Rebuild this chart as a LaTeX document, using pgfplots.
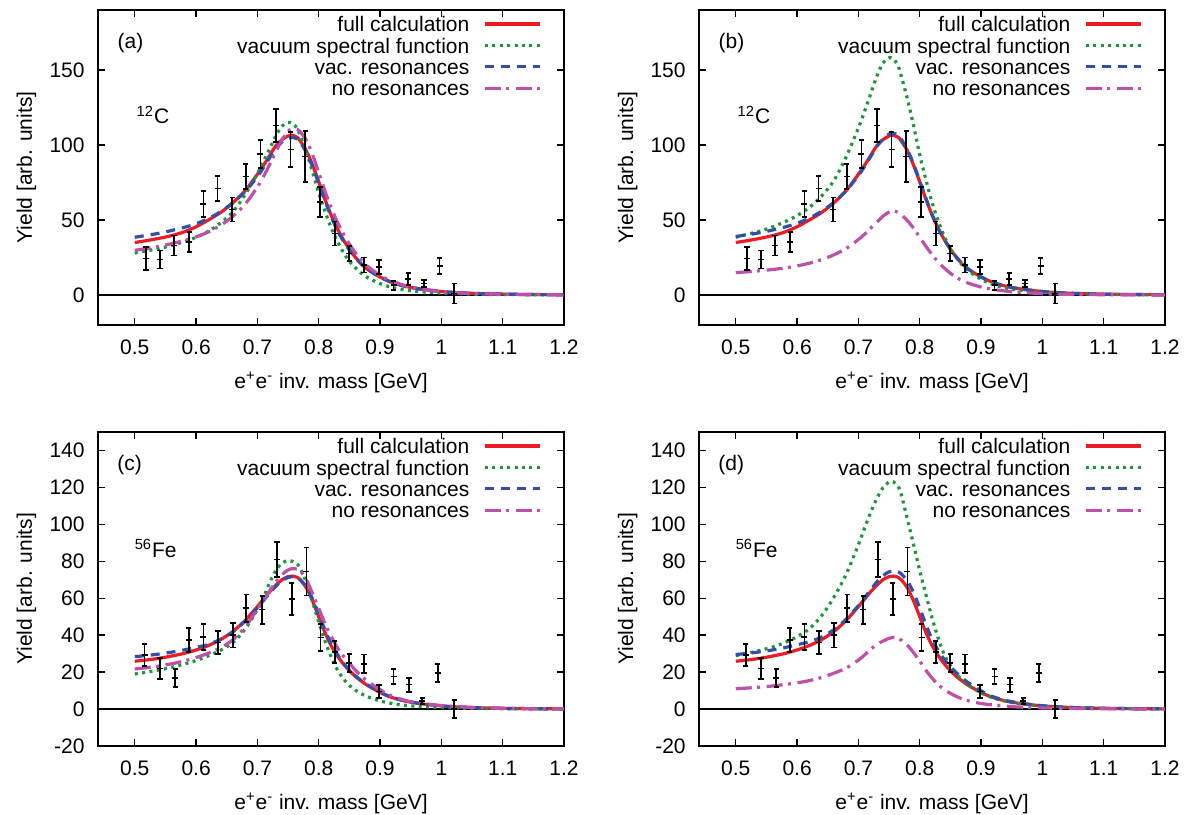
\documentclass[border=0pt]{standalone}
\usepackage{fontspec}
\setmainfont{Liberation Sans}
\usepackage{pgfplots}
\usepackage{pgfplotstable}
\pgfplotsset{compat=1.18}

\definecolor{cred}{RGB}{237,28,36}
\definecolor{cgreen}{RGB}{30,150,60}
\definecolor{cblue}{RGB}{50,80,170}
\definecolor{cmag}{RGB}{190,80,170}
\newcommand{\fs}{\fontsize{10.5}{12}\selectfont}

% ---------- data points ----------
\pgfplotstableread{
x y e
0.518 24.3 7.5
0.541 23.7 6.0
0.564 33.0 6.7
0.589 35.5 6.7
0.612 60.7 8.7
0.635 71.0 8.5
0.659 57.0 8.0
0.681 79.0 8.5
0.705 94.0 9.5
0.730 113.0 11.0
0.754 97.0 11.7
0.778 92.4 17.0
0.802 62.0 10.0
0.826 41.0 8.0
0.850 27.7 5.0
0.874 20.0 5.0
0.898 18.7 4.6
0.922 6.5 3.0
0.946 10.5 4.0
0.972 7.6 2.5
0.997 19.4 5.5
1.021 1.0 6.7
}\dataC
\pgfplotstableread{
x y e
0.516 29.3 6.0
0.541 22.0 5.6
0.566 16.8 5.0
0.588 37.3 6.6
0.612 39.0 7.0
0.636 36.0 6.3
0.660 40.0 6.7
0.682 54.6 7.4
0.708 53.8 7.6
0.732 81.0 9.4
0.756 59.6 8.8
0.780 74.5 13.0
0.803 38.8 7.4
0.826 31.0 6.0
0.850 24.8 4.8
0.874 24.5 5.0
0.898 9.6 3.6
0.922 17.7 4.0
0.947 13.2 3.8
0.969 4.3 1.6
0.994 19.5 4.7
1.021 0.0 5.0
}\dataFe

% ---------- carbon curves ----------
\pgfplotstableread{
x full vacA resA nresA vacB resB nresB
0.50 35.0 28.0 38.5 29.8 38.5 39.0 14.9
0.52 36.3 29.5 39.8 31.0 40.6 40.2 15.5
0.54 37.8 31.0 41.2 32.5 42.6 41.6 16.2
0.56 39.6 33.0 43.0 34.2 45.4 43.3 17.0
0.58 42.0 35.5 45.0 36.3 48.8 45.3 18.0
0.60 45.5 38.5 47.5 38.8 52.9 47.8 19.4
0.62 50.0 42.5 51.0 42.0 58.4 51.3 21.2
0.64 55.0 48.0 55.5 46.5 66.0 55.8 23.6
0.66 61.5 55.5 61.5 52.5 76.3 61.8 26.8
0.68 69.5 67.0 69.0 60.5 92.1 69.5 31.0
0.70 80.5 81.0 79.0 72.0 111.4 79.6 37.0
0.71 86.5 89.0 85.0 79.0 122.4 85.7 40.5
0.72 93.0 97.5 91.5 87.0 134.1 92.3 44.5
0.73 99.5 106.0 97.5 95.5 145.8 99.0 48.5
0.74 103.5 112.5 102.0 103.5 154.7 104.0 52.5
0.75 106.0 115.0 104.5 109.0 158.1 107.3 55.3
0.757 106.5 114.5 105.0 111.0 157.4 107.6 56.0
0.765 105.0 111.0 104.0 110.5 152.6 106.8 55.0
0.77 102.5 106.0 101.5 108.8 145.8 103.8 53.5
0.78 96.0 95.0 95.0 103.0 130.6 96.8 49.5
0.79 86.5 82.0 85.5 93.5 112.8 87.2 44.5
0.80 75.5 68.0 74.5 81.5 93.5 76.0 38.5
0.81 64.0 56.0 63.0 69.5 77.0 64.5 32.5
0.82 53.5 45.0 52.5 58.5 61.9 53.8 27.0
0.83 44.5 36.0 43.5 49.0 49.5 44.5 22.0
0.84 37.0 28.5 36.0 41.0 39.2 37.0 18.0
0.85 30.5 22.5 30.0 34.0 30.9 30.7 14.5
0.86 25.0 18.0 24.8 28.0 24.8 25.2 11.7
0.87 20.5 14.3 20.5 23.0 19.7 20.7 9.5
0.88 17.0 11.5 17.0 19.0 15.8 17.1 7.8
0.90 12.0 7.6 12.0 13.0 10.5 12.0 5.3
0.92 8.3 5.0 8.3 9.2 6.9 8.3 3.7
0.95 5.0 2.8 5.0 5.3 3.9 5.0 2.2
1.00 2.3 1.3 2.3 2.2 1.8 2.3 0.9
1.05 1.1 0.6 1.1 1.0 0.8 1.1 0.4
1.10 0.6 0.3 0.6 0.5 0.4 0.6 0.2
1.15 0.3 0.2 0.3 0.3 0.2 0.3 0.1
1.20 0.2 0.1 0.2 0.1 0.1 0.2 0.05
}\curvesC

% ---------- iron curves ----------
\pgfplotstableread{
x full vacC resC nresC vacD resD nresD
0.50 25.9 19.0 28.4 21.7 28.9 29.5 11.0
0.52 26.6 20.0 29.0 22.4 30.3 30.2 11.4
0.54 27.5 21.2 29.8 23.3 31.8 31.0 11.9
0.56 28.7 22.6 30.8 24.5 33.6 32.0 12.5
0.58 30.1 24.3 32.0 26.0 36.0 33.3 13.3
0.60 32.0 26.3 33.4 27.9 39.2 34.8 14.2
0.62 34.4 28.8 35.0 30.2 43.5 36.5 15.4
0.64 37.6 31.8 37.8 33.2 50.5 39.0 17.1
0.66 42.0 36.0 41.8 37.5 60.5 43.0 19.4
0.68 48.0 43.3 47.6 44.5 73.0 48.6 22.2
0.70 55.5 54.0 54.8 54.0 89.0 56.0 26.5
0.71 59.5 60.5 58.8 58.8 98.0 60.2 29.3
0.72 63.5 68.5 62.8 64.0 106.5 64.6 32.3
0.73 67.0 75.0 66.5 68.8 114.0 68.8 35.0
0.74 70.0 79.0 69.5 72.8 119.8 72.2 36.8
0.75 71.7 80.4 71.3 75.3 122.9 74.3 38.3
0.757 72.0 80.0 71.7 76.0 123.0 74.8 38.8
0.765 71.3 78.5 71.2 75.8 120.5 74.3 38.2
0.77 70.0 76.0 70.0 74.8 116.0 73.2 37.3
0.78 65.5 68.5 66.0 70.0 102.5 69.3 34.5
0.79 58.5 58.0 59.5 62.5 89.0 63.0 30.5
0.80 50.0 47.0 51.5 54.5 75.0 54.7 26.0
0.81 41.5 37.0 43.0 46.5 62.0 45.8 21.0
0.82 34.5 28.5 35.5 39.5 49.5 38.0 16.8
0.83 29.0 21.5 29.8 33.5 38.5 31.8 13.3
0.84 24.5 16.5 25.0 28.8 29.5 26.9 10.5
0.85 20.8 12.8 21.2 24.8 23.5 22.9 8.5
0.86 17.6 10.2 18.0 21.0 19.0 19.6 6.8
0.87 15.0 8.2 15.3 17.8 15.5 16.7 5.4
0.88 12.7 6.6 13.0 15.0 12.8 14.0 4.4
0.90 9.0 4.4 9.2 10.5 8.8 9.9 3.0
0.92 6.2 3.0 6.3 7.0 6.1 6.6 2.2
0.95 3.7 1.7 3.8 4.0 3.5 4.0 1.3
1.00 1.7 0.8 1.7 1.9 1.6 1.8 0.6
1.05 0.8 0.4 0.8 0.9 0.8 0.8 0.3
1.10 0.4 0.2 0.4 0.4 0.4 0.4 0.15
1.15 0.2 0.1 0.2 0.2 0.2 0.2 0.1
1.20 0.1 0.05 0.1 0.1 0.1 0.1 0.05
}\curvesFe

\pgfplotsset{
  panel/.style={
    scale only axis, width=233pt,
    xmin=0.44, xmax=1.2,
    xtick={0.5,0.6,0.7,0.8,0.9,1.0,1.1,1.2},
    xticklabels={0.5,0.6,0.7,0.8,0.9,1,1.1,1.2},
    xtick pos=both, ytick pos=both,
    xticklabel pos=lower, yticklabel pos=left,
    tick align=inside, major tick length=3.5pt,
    axis line style={black, line width=0.7pt},
    every tick/.style={black, line width=0.7pt},
    /pgf/number format/assume math mode=true,
    tick label style={font=\fs},
    label style={font=\fs},
    xticklabel style={anchor=base, yshift=-14.7pt, inner sep=0pt},
    yticklabel style={anchor=east, xshift=-6.5pt, inner sep=0pt},
    xlabel={e\textsuperscript{+}e\textsuperscript{-} inv. mass [GeV]},
    ylabel={Yield [arb. units]},
    xlabel style={at={([yshift=-31.7pt]axis description cs:0.5,0)}, anchor=base, inner sep=0pt},
    ylabel style={at={([xshift=-33pt]axis description cs:0,0.5)}, anchor=base, rotate=0, inner sep=0pt},
    legend plot pos=right,
    legend image code/.code={\draw[##1] (0pt,3.8pt) -- (27.7pt,3.8pt);},
    legend style={at={(0.9528,0.9794)}, anchor=north east, draw=none, fill=none,
      inner sep=0pt, outer sep=0pt, row sep=0.9pt, column sep=7pt,
      font=\fs,
      nodes={inner sep=0pt, text height=7.6pt, text depth=2.2pt},
      cells={anchor=base east}},
  },
  toppanel/.style={panel, height=157.5pt, ymin=-20, ymax=190, ytick={0,50,100,150}},
  botpanel/.style={panel, height=157pt, ymin=-20, ymax=150, ytick={-20,0,20,40,60,80,100,120,140}},
  fullst/.style={cred, line width=1.6pt, solid},
  vacst/.style={cgreen, line width=1.6pt, dash pattern=on 1.5pt off 2.2pt},
  resst/.style={cblue, line width=1.6pt, dash pattern=on 4.5pt off 3.5pt},
  nresst/.style={cmag, line width=1.6pt, dash pattern=on 8pt off 2.7pt on 1.5pt off 3.3pt},
  datast/.style={black, only marks, mark=+, mark size=1.5pt, line width=0.8pt, forget plot,
    error bars/.cd, y dir=both, y explicit,
    error bar style={line width=0.9pt, black},
    error mark options={rotate=90, mark size=1.35pt, line width=0.9pt, black}},
}

\begin{document}
\begin{tikzpicture}
\useasboundingbox (0,0) rectangle (594pt,407pt);

% ---------- (a) ----------
\begin{axis}[toppanel, at={(49pt,244.5pt)}, anchor=south west]
\addplot[forget plot, black, line width=0.6pt] coordinates {(0.44,0) (1.2,0)};
\addplot[fullst, smooth] table[x=x, y=full] {\curvesC};
\addlegendentry{full calculation}
\addplot[vacst, smooth] table[x=x, y=vacA] {\curvesC};
\addlegendentry{vacuum spectral function}
\addplot[resst, smooth] table[x=x, y=resA] {\curvesC};
\addlegendentry{vac. resonances}
\addplot[nresst, smooth] table[x=x, y=nresA] {\curvesC};
\addlegendentry{no resonances}
\addplot[datast] table[x=x, y=y, y error=e] {\dataC};
\node[anchor=base west, font=\fs, inner sep=0pt] at (axis cs:0.4714,164.5) {(a)};
\node[anchor=base west, font=\fs, inner sep=0pt] at (axis cs:0.5025,114) {\textsuperscript{12}C};
\end{axis}

% ---------- (b) ----------
\begin{axis}[toppanel, at={(349.5pt,244.5pt)}, anchor=south west]
\addplot[forget plot, black, line width=0.6pt] coordinates {(0.44,0) (1.2,0)};
\addplot[fullst, smooth] table[x=x, y=full] {\curvesC};
\addlegendentry{full calculation}
\addplot[vacst, smooth] table[x=x, y=vacB] {\curvesC};
\addlegendentry{vacuum spectral function}
\addplot[resst, smooth] table[x=x, y=resB] {\curvesC};
\addlegendentry{vac. resonances}
\addplot[nresst, smooth] table[x=x, y=nresB] {\curvesC};
\addlegendentry{no resonances}
\addplot[datast] table[x=x, y=y, y error=e] {\dataC};
\node[anchor=base west, font=\fs, inner sep=0pt] at (axis cs:0.4714,164.5) {(b)};
\node[anchor=base west, font=\fs, inner sep=0pt] at (axis cs:0.5025,114) {\textsuperscript{12}C};
\end{axis}

% ---------- (c) ----------
\begin{axis}[botpanel, at={(49pt,34pt)}, anchor=south west]
\addplot[forget plot, black, line width=0.6pt] coordinates {(0.44,0) (1.2,0)};
\addplot[fullst, smooth] table[x=x, y=full] {\curvesFe};
\addlegendentry{full calculation}
\addplot[vacst, smooth] table[x=x, y=vacC] {\curvesFe};
\addlegendentry{vacuum spectral function}
\addplot[resst, smooth] table[x=x, y=resC] {\curvesFe};
\addlegendentry{vac. resonances}
\addplot[nresst, smooth] table[x=x, y=nresC] {\curvesFe};
\addlegendentry{no resonances}
\addplot[datast] table[x=x, y=y, y error=e] {\dataFe};
\node[anchor=base west, font=\fs, inner sep=0pt] at (axis cs:0.4709,129.2) {(c)};
\node[anchor=base west, font=\fs, inner sep=0pt] at (axis cs:0.4993,82.2) {\textsuperscript{56}Fe};
\end{axis}

% ---------- (d) ----------
\begin{axis}[botpanel, at={(349.5pt,34pt)}, anchor=south west]
\addplot[forget plot, black, line width=0.6pt] coordinates {(0.44,0) (1.2,0)};
\addplot[fullst, smooth] table[x=x, y=full] {\curvesFe};
\addlegendentry{full calculation}
\addplot[vacst, smooth] table[x=x, y=vacD] {\curvesFe};
\addlegendentry{vacuum spectral function}
\addplot[resst, smooth] table[x=x, y=resD] {\curvesFe};
\addlegendentry{vac. resonances}
\addplot[nresst, smooth] table[x=x, y=nresD] {\curvesFe};
\addlegendentry{no resonances}
\addplot[datast] table[x=x, y=y, y error=e] {\dataFe};
\node[anchor=base west, font=\fs, inner sep=0pt] at (axis cs:0.4709,129.2) {(d)};
\node[anchor=base west, font=\fs, inner sep=0pt] at (axis cs:0.4993,82.2) {\textsuperscript{56}Fe};
\end{axis}
\end{tikzpicture}
\end{document}
